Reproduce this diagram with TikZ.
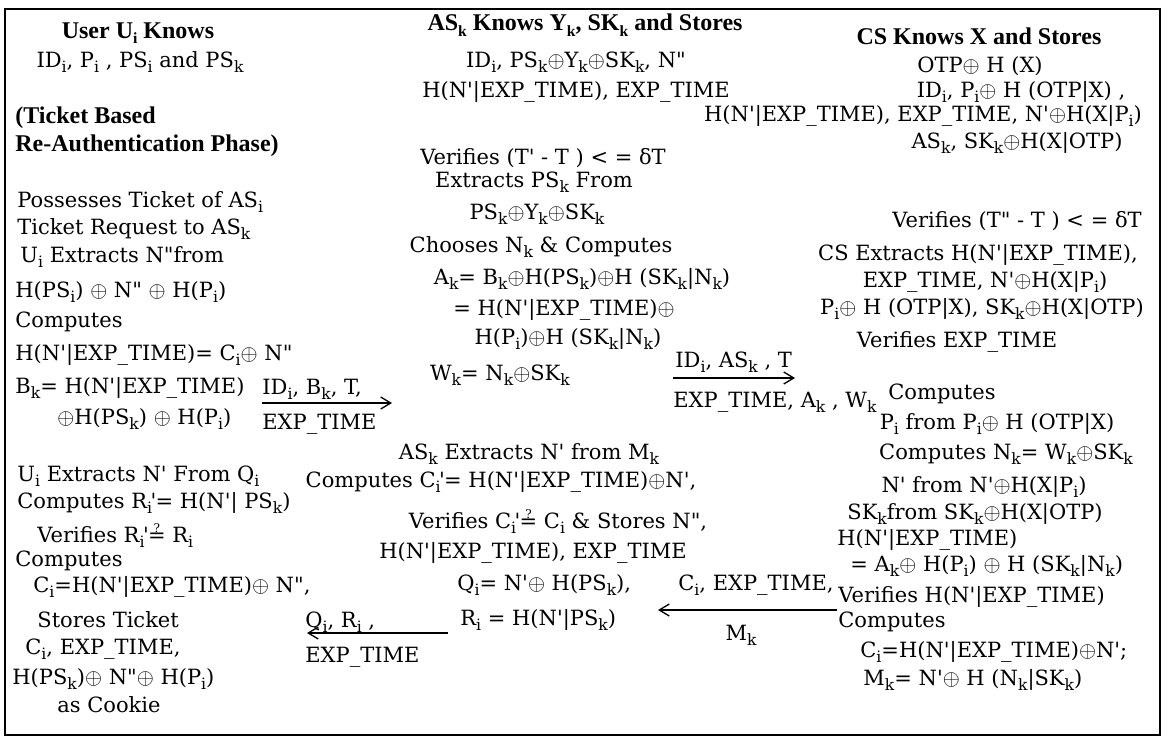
\documentclass[tikz,border=0pt]{standalone}
\usepackage{amsmath}
\usepackage{fontspec}
\setmainfont{DejaVu Serif}[Ligatures=TeXOff]
\newfontfamily\hdfont{Liberation Serif}
\usetikzlibrary{arrows.meta}

\newcommand{\lo}[1]{\raisebox{-0.5ex}{\fontsize{7.8}{9}\selectfont #1}}
\newcommand{\xo}{\ensuremath{\oplus}}
\newcommand{\pri}[1]{\rlap{\lo{#1}}\rlap{\,'}\hphantom{\lo{#1}}\,}
\newcommand{\qeq}{\ooalign{=\cr\hidewidth\raisebox{0.9ex}{\fontsize{6}{6}\selectfont ?}\hidewidth\cr}}
\newcommand{\ET}{EXP\_TIME}

\tikzset{
  txt/.style={inner sep=0pt, anchor=base west, font=\fontsize{10.5}{12}\selectfont},
  ctxt/.style={txt, anchor=base},
  hd/.style={inner sep=0pt, anchor=base, font=\hdfont\bfseries\fontsize{12}{14}\selectfont},
  msg/.style={line width=0.65pt, -{Straight Barb[length=5pt,width=6pt]}}
}

\begin{document}
\begin{tikzpicture}[x=0.5pt,y=-0.5pt]
    \useasboundingbox (0,0) rectangle (1171,739);
    \draw[line width=0.7pt] (5,9) rectangle (1160,735);

    % user side
    \node[hd] (uhd) at (138,38) {User U\lo{i} Knows};
    \node[ctxt] (ukn) at (140,67) {ID\lo{i}, P\lo{i} , PS\lo{i} and PS\lo{k}};
    \node[hd, anchor=base west] (ph1) at (15,123) {(Ticket Based};
    \node[hd, anchor=base west] (ph2) at (15,151) {Re-Authentication Phase)};
    \node[txt] (u1) at (17,207) {Possesses Ticket of AS\lo{i}};
    \node[txt] (u2) at (17,234) {Ticket Request to AS\lo{k}};
    \node[txt] (u3) at (20,262) {U\lo{i} Extracts N"from};
    \node[txt] (u4) at (15,297) {H(PS\lo{i}) \xo{} N" \xo{} H(P\lo{i})};
    \node[txt] (u5) at (15,327) {Computes};
    \node[txt] (u6) at (15,360) {H(N'|\ET)= C\lo{i}\xo{} N"};
    \node[txt] (u7) at (15,393) {B\lo{k}= H(N'|\ET)};
    \node[txt] (u8) at (57,424) {\xo{}H(PS\lo{k}) \xo{} H(P\lo{i})};
    \node[txt] (u9) at (17,481) {U\lo{i} Extracts N' From Q\lo{i}};
    \node[txt] (u10) at (17,508) {Computes R\pri{i}= H(N'| PS\lo{k})};
    \node[txt] (u11) at (37,542) {Verifies R\pri{i}\qeq{} R\lo{i}};
    \node[txt] (u12) at (15,566) {Computes};
    \node[txt] (u13) at (33,592) {C\lo{i}=H(N'|\ET)\xo{} N",};
    \node[txt] (u14) at (37,627) {Stores Ticket};
    \node[txt] (u15) at (25,654) {C\lo{i}, \ET ,};
    \node[txt] (u16) at (12,684) {H(PS\lo{k})\xo{} N"\xo{} H(P\lo{i})};
    \node[txt] (u17) at (57,712) {as Cookie};

    % AS_k side
    \node[hd] (ashd) at (585,31) {AS\lo{k} Knows Y\lo{k}, SK\lo{k} and Stores};
    \node[ctxt] (as1) at (576,67) {ID\lo{i}, PS\lo{k}\xo{}Y\lo{k}\xo{}SK\lo{k}, N"};
    \node[ctxt] (as2) at (576,97) {H(N'|\ET), \ET};
    \node[ctxt] (as3) at (543,164) {Verifies (T' - T ) < = δT};
    \node[ctxt] (as4) at (534,187) {Extracts PS\lo{k} From};
    \node[ctxt] (as5) at (537,219) {PS\lo{k}\xo{}Y\lo{k}\xo{}SK\lo{k}};
    \node[ctxt] (as6) at (541,252) {Chooses N\lo{k} \& Computes};
    \node[ctxt] (as7) at (582,284) {A\lo{k}= B\lo{k}\xo{}H(PS\lo{k})\xo{}H (SK\lo{k}|N\lo{k})};
    \node[ctxt] (as8) at (564,315) {= H(N'|\ET)\xo{}};
    \node[ctxt] (as9) at (568,344) {H(P\lo{i})\xo{}H (SK\lo{k}|N\lo{k})};
    \node[ctxt] (as10) at (500,380) {W\lo{k}= N\lo{k}\xo{}SK\lo{k}};
    \node[ctxt] (as11) at (529,459) {AS\lo{k} Extracts N' from M\lo{k}};
    \node[ctxt] (as12) at (501,487) {Computes C\pri{i}= H(N'|\ET)\xo{}N',};
    \node[ctxt] (as13) at (558,528) {Verifies C\pri{i}\qeq{} C\lo{i} \& Stores N",};
    \node[ctxt] (as14) at (533,558) {H(N'|\ET), \ET};
    \node[txt] (as15) at (457,590) {Q\lo{i}= N'\xo{} H(PS\lo{k}),};
    \node[txt] (as16) at (460,625) {R\lo{i} = H(N'|PS\lo{k})};

    % CS side
    \node[hd] (cshd) at (979,44) {CS Knows X and Stores};
    \node[ctxt] (cs1) at (980,72) {OTP\xo{} H (X)};
    \node[ctxt] (cs2) at (1021,97) {ID\lo{i}, P\lo{i}\xo{} H (OTP|X) ,};
    \node[ctxt] (cs3) at (923,121) {H(N'|\ET), \ET , N'\xo{}H(X|P\lo{i})};
    \node[ctxt] (cs4) at (1017,148) {AS\lo{k}, SK\lo{k}\xo{}H(X|OTP)};
    \node[ctxt] (cs5) at (1017,227) {Verifies (T" - T ) < = δT};
    \node[ctxt] (cs6) at (978,260) {CS Extracts H(N'|\ET),};
    \node[ctxt] (cs7) at (985,287) {\ET , N'\xo{}H(X|P\lo{i})};
    \node[ctxt] (cs8) at (982,314) {P\lo{i}\xo{} H (OTP|X), SK\lo{k}\xo{}H(X|OTP)};
    \node[ctxt] (cs9) at (957,347) {Verifies \ET};
    \node[ctxt] (cs10) at (942,399) {Computes};
    \node[ctxt] (cs11) at (997,429) {P\lo{i} from P\lo{i}\xo{} H (OTP|X)};
    \node[ctxt] (cs12) at (1006,459) {Computes N\lo{k}= W\lo{k}\xo{}SK\lo{k}};
    \node[ctxt] (cs13) at (984,492) {N' from N'\xo{}H(X|P\lo{i})};
    \node[ctxt] (cs14) at (975,519) {SK\lo{k}from SK\lo{k}\xo{}H(X|OTP)};
    \node[txt] (cs15) at (837,545) {H(N'|\ET)};
    \node[txt] (cs16) at (850,571) {= A\lo{k}\xo{} H(P\lo{i}) \xo{} H (SK\lo{k}|N\lo{k})};
    \node[txt] (cs17) at (838,602) {Verifies H(N'|\ET)};
    \node[txt] (cs18) at (838,627) {Computes};
    \node[txt] (cs19) at (860,657) {C\lo{i}=H(N'|\ET)\xo{}N';};
    \node[txt] (cs20) at (863,685) {M\lo{k}= N'\xo{} H (N\lo{k}|SK\lo{k})};

    % messages
    \coordinate (m1s) at (262,403);
    \coordinate (m1e) at (392,403);
    \draw[msg] (m1s) -- (m1e);
    \node[txt] (m1a) at (262,394) {ID\lo{i}, B\lo{k}, T,};
    \node[txt] (m1b) at (262,429) {\ET};

    \coordinate (m2s) at (673,378);
    \coordinate (m2e) at (795,378);
    \draw[msg] (m2s) -- (m2e);
    \node[txt] (m2a) at (675,367) {ID\lo{i}, AS\lo{k} , T};
    \node[txt] (m2b) at (673,407) {\ET, A\lo{k} , W\lo{k}};

    \coordinate (m3s) at (837,610);
    \coordinate (m3e) at (658,610);
    \draw[msg] (m3s) -- (m3e);
    \node[txt] (m3a) at (678,590) {C\lo{i}, \ET,};
    \node[ctxt] (m3b) at (741,640) {M\lo{k}};

    \coordinate (m4s) at (448,633);
    \coordinate (m4e) at (307,633);
    \draw[msg] (m4s) -- (m4e);
    \node[txt] (m4a) at (305,627) {Q\lo{i}, R\lo{i} ,};
    \node[txt] (m4b) at (305,662) {\ET};
  \end{tikzpicture}
\end{document}
